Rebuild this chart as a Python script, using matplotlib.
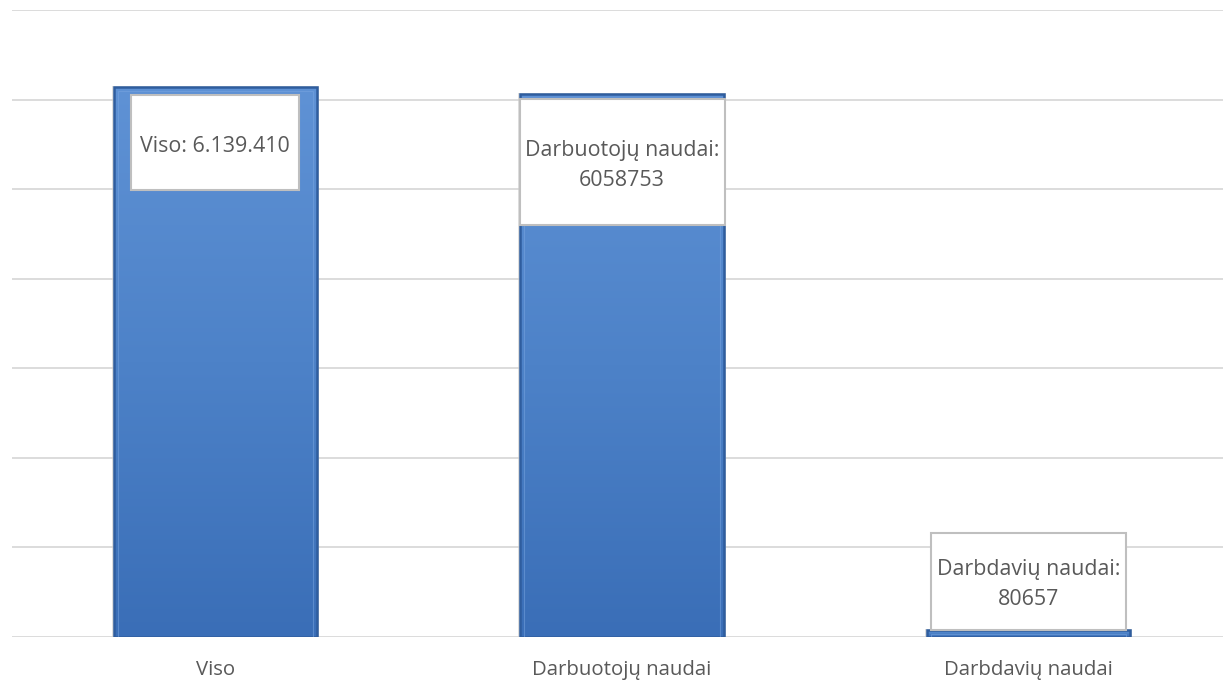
import matplotlib
matplotlib.use("Agg")
import matplotlib.pyplot as plt
from matplotlib.patches import Rectangle
import numpy as np

plt.rcParams['font.family'] = ['Open Sans', 'DejaVu Sans']

categories = ['Viso', 'Darbuotojų naudai', 'Darbdavių naudai']
values = [6139410, 6058753, 80657]
labels = ['Viso: 6.139.410', 'Darbuotojų naudai:\n6058753', 'Darbdavių naudai:\n80657']

W, H = 1223, 681
fig = plt.figure(figsize=(W / 100, H / 100), dpi=100)
ax = fig.add_axes([12 / W, 44 / H, 1220 / W, 627 / H])
ax.set_xlim(-0.5, 2.5)
ax.set_ylim(0, 7000000)
ax.set_yticks(np.arange(0, 7000001, 1000000))
ax.yaxis.grid(True, color='#d9d9d9', linewidth=1.3)
ax.set_axisbelow(True)
for s in ax.spines.values():
    s.set_visible(False)
ax.tick_params(left=False, labelleft=False, bottom=False, pad=13)
ax.set_xticks(range(len(categories)))
ax.set_xticklabels(categories, fontsize=14.7, color='#595959')

# pixel -> data helpers
px_x = 3 / 1220
px_y = 7000000 / 627

bar_w = 0.5
grad = np.linspace(0, 1, 256).reshape(-1, 1)
cmap = matplotlib.colors.LinearSegmentedColormap.from_list('b', ['#3a6eb7', '#4d82c8', '#5f92d5'])
bars = ax.bar(range(len(values)), values, width=bar_w, color='none', zorder=2)
for i, (b, v) in enumerate(zip(bars, values)):
    x0 = b.get_x()
    # soft shadow
    ax.add_patch(Rectangle((x0 - 2 * px_x, -2 * px_y), bar_w + 4 * px_x, v + 3 * px_y,
                           facecolor='#c8c8c8', edgecolor='none', alpha=0.6, zorder=1.9))
    im = ax.imshow(grad, extent=[x0, x0 + bar_w, 0, v], origin='lower', cmap=cmap,
                   aspect='auto', zorder=2)
    im.set_clip_path(b)
    # bevel edges
    ax.add_patch(Rectangle((x0, 0), bar_w, v, fill=False, edgecolor='#2f5d9e',
                           linewidth=1.8, zorder=3))
    ax.add_patch(Rectangle((x0 + 4 * px_x, 0), bar_w - 8 * px_x, max(v - 4 * px_y, 0),
                           fill=False, edgecolor='#7aa6e0', linewidth=0.8, alpha=0.5, zorder=3))
ax.set_xlim(-0.5, 2.5)
ax.set_ylim(0, 7000000)

# label boxes: width, height (px), gap of box top below bar top (px)
box_w = [168, 205, 195]
box_h = [95, 126, 97]
box_gap = [8, 5, -97]
for i, v in enumerate(values):
    top = v - box_gap[i] * px_y
    bw = box_w[i] * px_x
    bh = box_h[i] * px_y
    ax.add_patch(Rectangle((i - bw / 2, top - bh), bw, bh, facecolor='white',
                           edgecolor='#bfbfbf', linewidth=1.5, zorder=4))
    ax.text(i, top - bh / 2 - 3.5 * px_y, labels[i], ha='center', va='center', fontsize=15.4,
            color='#595959', linespacing=1.55, zorder=5)

fig.savefig('out.png', dpi=100)
